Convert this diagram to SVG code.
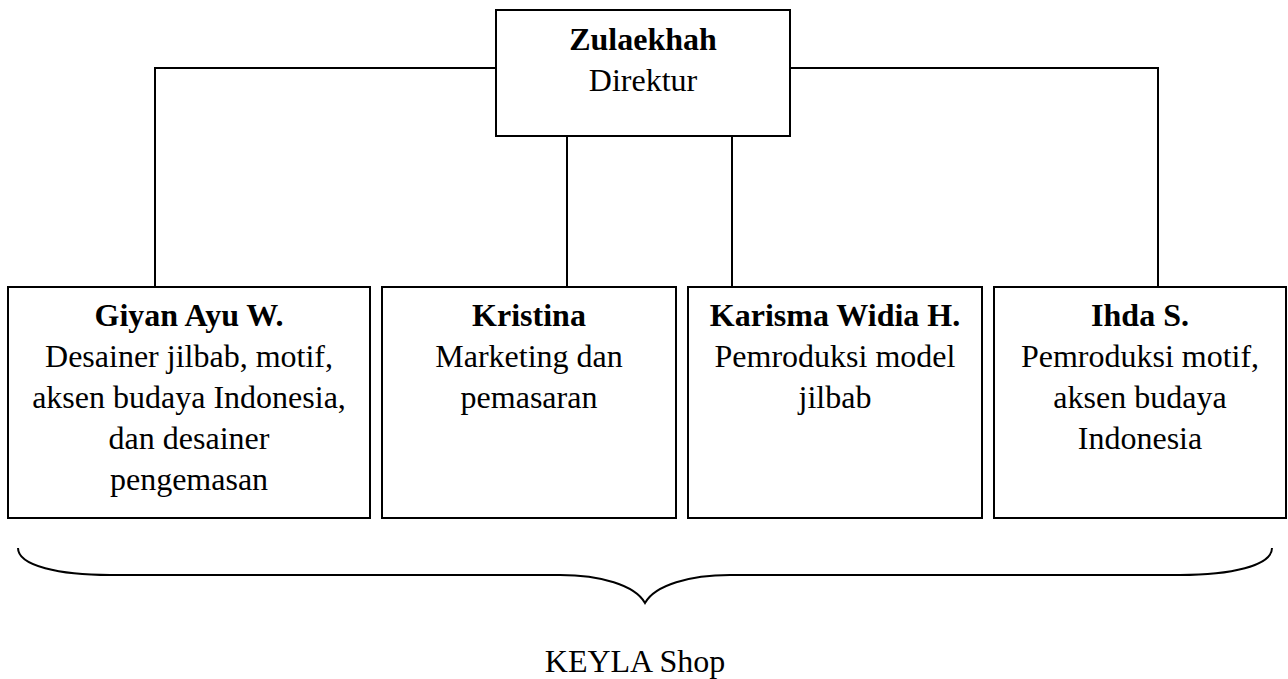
<svg xmlns="http://www.w3.org/2000/svg" width="1288" height="679" viewBox="0 0 1288 679">
<style>
.box{fill:#fff;stroke:#000;stroke-width:2}
.ln{fill:none;stroke:#000;stroke-width:2}
text{font-family:"Liberation Serif","Times New Roman",serif;font-size:32px;fill:#000;text-anchor:middle}
.b{font-weight:bold}
</style>
<rect width="1288" height="679" fill="#fff"/>
<g id="connectors">
<path class="ln" d="M155,287 V68 H496 M790,68 H1158 V287 M567,136 V287 M732,136 V287"/>
</g>
<g id="direktur">
<rect class="box" x="496" y="10" width="294" height="126"/>
<text x="643" y="50" class="b">Zulaekhah</text>
<text x="643" y="91">Direktur</text>
</g>
<g id="giyan">
<rect class="box" x="8" y="287" width="362" height="231"/>
<text x="189" y="326" class="b">Giyan Ayu W.</text>
<text x="189" y="367">Desainer jilbab, motif,</text>
<text x="189" y="408">aksen budaya Indonesia,</text>
<text x="189" y="449">dan desainer</text>
<text x="189" y="490">pengemasan</text>
</g>
<g id="kristina">
<rect class="box" x="382" y="287" width="294" height="231"/>
<text x="529" y="326" class="b">Kristina</text>
<text x="529" y="367">Marketing dan</text>
<text x="529" y="408">pemasaran</text>
</g>
<g id="karisma">
<rect class="box" x="688" y="287" width="294" height="231"/>
<text x="835" y="326" class="b">Karisma Widia H.</text>
<text x="835" y="367">Pemroduksi model</text>
<text x="835" y="408">jilbab</text>
</g>
<g id="ihda">
<rect class="box" x="994" y="287" width="292" height="231"/>
<text x="1140" y="326" class="b">Ihda S.</text>
<text x="1140" y="367">Pemroduksi motif,</text>
<text x="1140" y="408">aksen budaya</text>
<text x="1140" y="449">Indonesia</text>
</g>
<g id="brace">
<path class="ln" d="M18,548 C18,566 60,575 110,575 L560,575 C600,575 635,585 645,603 C655,585 690,575 730,575 L1180,575 C1230,575 1272,566 1272,548"/>
<text x="635" y="672">KEYLA Shop</text>
</g>
</svg>
